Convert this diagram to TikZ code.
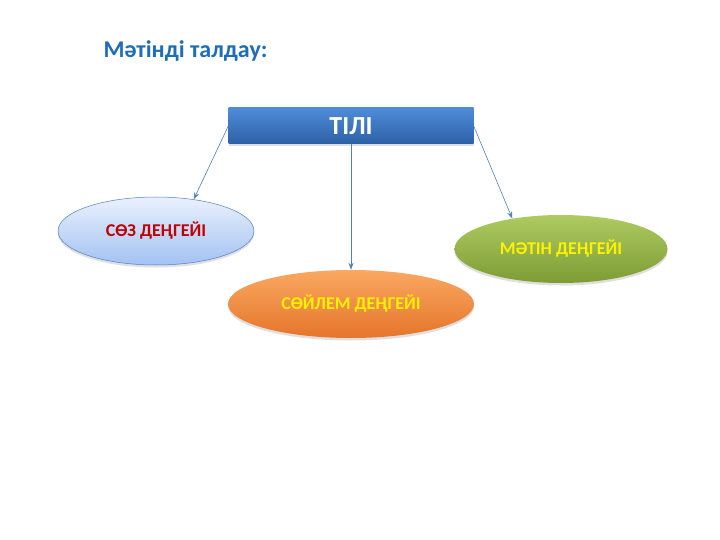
\documentclass[tikz,border=0pt]{standalone}
\usepackage{fontspec}
\setmainfont{Carlito}
\usetikzlibrary{shapes.geometric,shadows,arrows.meta}

\definecolor{titleblue}{HTML}{1F6CB8}
\definecolor{arrowblue}{HTML}{4F81BD}
\definecolor{darkred}{HTML}{C00000}
\definecolor{boxtop}{HTML}{4F8CD8}
\definecolor{boxbot}{HTML}{2C60A6}
\definecolor{soztop}{HTML}{EAF1FD}
\definecolor{sozbot}{HTML}{A3C1F3}
\definecolor{ortop}{HTML}{FAA862}
\definecolor{orbot}{HTML}{E5752A}
\definecolor{grtop}{HTML}{AECB62}
\definecolor{grbot}{HTML}{7E9C34}

\tikzset{
  level/.style={ellipse, inner sep=0pt, minimum height=68pt, font=\bfseries\fontsize{18}{18}\selectfont,
    drop shadow={opacity=0.25, shadow xshift=0pt, shadow yshift=-2.5pt}},
  arr/.style={draw=arrowblue, line width=0.6pt, -{Stealth[length=7pt,width=5pt]}}
}

\begin{document}
\begin{tikzpicture}[x=1pt, y=-1pt]
  \useasboundingbox[fill=white] (0,0) rectangle (720,540);

  \node[anchor=base west, text=titleblue, font=\bfseries\fontsize{24}{24}\selectfont] (title) at (100,58) {Мәтінді талдау:};

  \node[rectangle, minimum width=245pt, minimum height=36pt, inner sep=0pt,
        top color=boxtop, bottom color=boxbot, text=white,
        font=\bfseries\fontsize{26}{26}\selectfont,
        drop shadow={opacity=0.25, shadow xshift=0pt, shadow yshift=-2pt}] (tili) at (351,126) {ТІЛІ};

  \node[level, minimum width=196pt, draw=arrowblue, line width=0.5pt,
        top color=soztop, bottom color=sozbot, text=darkred] (soz) at (156,231) {СӨЗ ДЕҢГЕЙІ};
  \node[level, minimum width=246pt, top color=ortop, bottom color=orbot,
        text=yellow] (soylem) at (351,304) {СӨЙЛЕМ ДЕҢГЕЙІ};
  \node[level, minimum width=213pt, top color=grtop, bottom color=grbot,
        text=yellow] (matin) at (561,249) {МӘТІН ДЕҢГЕЙІ};

  \draw[arr] (tili.west) -- (soz.40);
  \draw[arr] (tili.south) -- (soylem.north);
  \draw[arr] (tili.east) -- (matin.148);
\end{tikzpicture}
\end{document}
